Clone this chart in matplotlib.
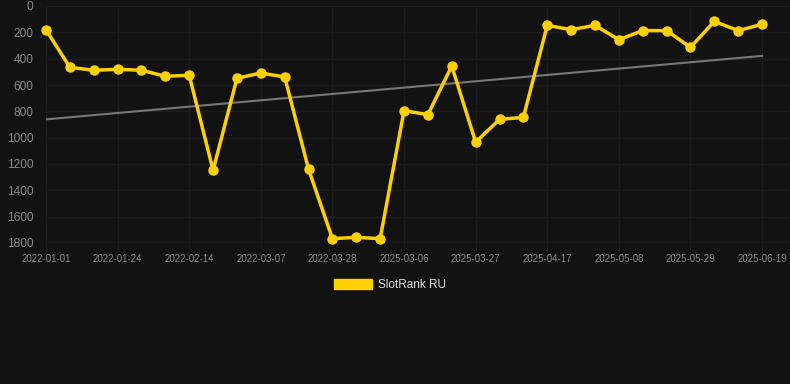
import numpy as np
import matplotlib
matplotlib.use("Agg")
import matplotlib.pyplot as plt
from matplotlib.patches import Patch

plt.rcParams['font.family'] = ['Liberation Sans', 'DejaVu Sans']

# weekly dates (only every third one is shown on the axis)
dates = ["2022-01-01", "2022-01-08", "2022-01-15", "2022-01-24", "2022-01-31",
         "2022-02-07", "2022-02-14", "2022-02-21", "2022-02-28", "2022-03-07",
         "2022-03-14", "2022-03-21", "2022-03-28", "2022-04-04", "2025-02-27",
         "2025-03-06", "2025-03-13", "2025-03-20", "2025-03-27", "2025-04-03",
         "2025-04-10", "2025-04-17", "2025-04-24", "2025-05-01", "2025-05-08",
         "2025-05-15", "2025-05-22", "2025-05-29", "2025-06-05", "2025-06-12",
         "2025-06-19"]
rank = [180, 466, 488, 481, 488, 534, 526, 1248, 549, 509,
        539, 1240, 1767, 1757, 1767, 795, 825, 456, 1035, 861,
        846, 147, 180, 147, 256, 187, 187, 314, 117, 187, 139]
series_name = "SlotRank RU"

bg = "#121212"
gold = "#FFD000"
grid_c = "#1d1d1d"

x = np.arange(len(rank))
slope, intercept = np.polyfit(x, rank, 1)
trend = slope * x + intercept

fig = plt.figure(figsize=(7.9, 3.84), dpi=100, facecolor=bg)
ax = fig.add_axes([46 / 790, 1 - 243 / 384, 744 / 790, 237 / 384])
ax.set_facecolor(bg)

ax.plot(x, trend, color="#777777", lw=1.5, zorder=2)
ax.plot(x, rank, color=gold, lw=2.5, marker="o", markersize=6.5,
        clip_on=False, zorder=3)

ax.set_ylim(1800, 0)
ax.set_xlim(0, 31.17)
ax.set_yticks(range(0, 1801, 200))
ax.set_xticks(x[::3])
ax.set_xticklabels(dates[::3])

ax.grid(True, color=grid_c, lw=1)
for s in ax.spines.values():
    s.set_visible(False)
ax.axhline(1800, color="#2a2a2a", lw=1, zorder=1)
ax.tick_params(axis="y", length=0, pad=9, labelsize=8.6, labelcolor="#8a8a8a")
ax.tick_params(axis="x", length=6, color=grid_c, pad=2, labelsize=7.0,
               labelcolor="#8a8a8a")

fig.legend(handles=[Patch(facecolor=gold, edgecolor=gold)], labels=[series_name],
           loc="center", bbox_to_anchor=(0.5 - 5 / 790, 1 - 285 / 384), frameon=False,
           fontsize=8.5, labelcolor="#dddddd", handlelength=3.2, handleheight=0.85,
           handletextpad=0.5)

fig.savefig("out.png", dpi=100, facecolor=bg)
